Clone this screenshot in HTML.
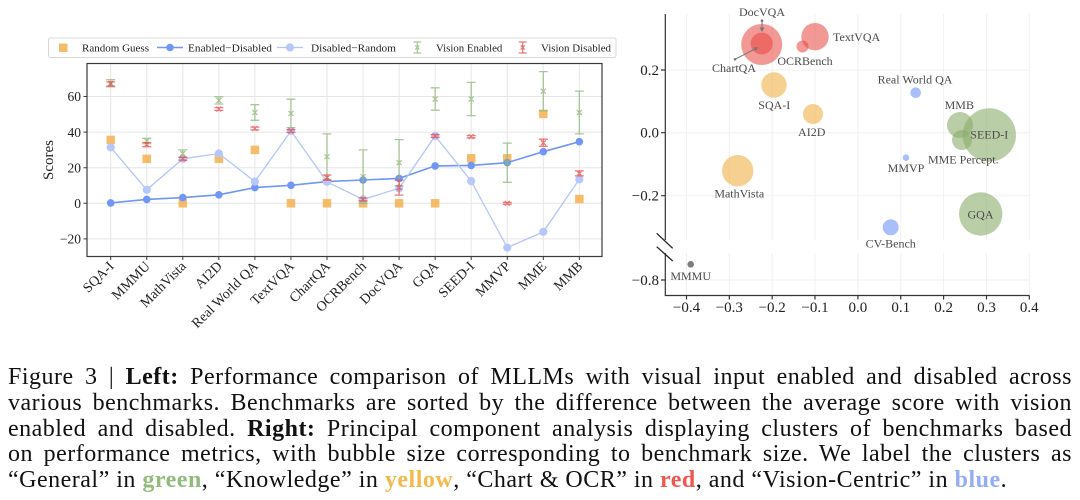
<!DOCTYPE html>
<html>
<head>
<meta charset="utf-8">
<style>
html,body{margin:0;padding:0;background:#fff;}
body{width:1080px;height:500px;position:relative;overflow:hidden;font-family:"Liberation Serif",serif;}
svg{position:absolute;left:0;top:0;}
.cap{position:absolute;left:8px;width:1064px;font-size:24px;letter-spacing:0.5px;line-height:25.6px;color:#111;text-align:justify;text-align-last:justify;white-space:normal;}
.cap.last{text-align-last:left;}
.g{color:#93bb7e;font-weight:bold}
.y{color:#f4b94e;font-weight:bold}
.r{color:#ee5850;font-weight:bold}
.b{color:#95adf6;font-weight:bold}
</style>
</head>
<body>
<svg width="1080" height="360" viewBox="0 0 1080 360" font-family="Liberation Serif, serif">
<defs>
<marker id="mED" markerWidth="10" markerHeight="10" refX="5" refY="5" markerUnits="userSpaceOnUse"><circle cx="5" cy="5" r="3.8" fill="#7096f6"/></marker>
<marker id="mDR" markerWidth="10" markerHeight="10" refX="5" refY="5" markerUnits="userSpaceOnUse"><circle cx="5" cy="5" r="4.1" fill="#b6c8fa"/></marker>
</defs>

<!-- ===== LEFT CHART ===== -->
<g stroke="#e6e6e6" stroke-width="1">
<path d="M87 238.9H602M87 203.3H602M87 167.7H602M87 132.1H602M87 96.5H602"/>
<path d="M110.7 64V256M146.75 64V256M182.8 64V256M218.85 64V256M254.9 64V256M290.95 64V256M327 64V256M363.05 64V256M399.1 64V256M435.15 64V256M471.2 64V256M507.25 64V256M543.3 64V256M579.35 64V256"/>
</g>

<!-- Random guess -->
<g fill="#f3b24f" fill-opacity="0.85">
<rect x="106.45" y="135.65" width="8.5" height="8.5"/>
<rect x="142.5" y="154.55" width="8.5" height="8.5"/>
<rect x="178.55" y="199.05" width="8.5" height="8.5"/>
<rect x="214.6" y="154.55" width="8.5" height="8.5"/>
<rect x="250.65" y="145.65" width="8.5" height="8.5"/>
<rect x="286.7" y="199.05" width="8.5" height="8.5"/>
<rect x="322.75" y="199.05" width="8.5" height="8.5"/>
<rect x="358.8" y="199.05" width="8.5" height="8.5"/>
<rect x="394.85" y="199.05" width="8.5" height="8.5"/>
<rect x="430.9" y="199.05" width="8.5" height="8.5"/>
<rect x="466.95" y="154.05" width="8.5" height="8.5"/>
<rect x="503" y="154.05" width="8.5" height="8.5"/>
<rect x="539.05" y="109.65" width="8.5" height="8.5"/>
<rect x="575.1" y="194.75" width="8.5" height="8.5"/>
</g>

<!-- Enabled-Disabled -->
<polyline fill="none" stroke="#7096f6" stroke-width="1.6" marker-start="url(#mED)" marker-mid="url(#mED)" marker-end="url(#mED)"
points="110.7,202.9 146.75,199.4 182.8,197.6 218.85,194.8 254.9,187.6 290.95,185.3 327,181.6 363.05,180 399.1,178.4 435.15,165.9 471.2,165.4 507.25,162.7 543.3,151.7 579.35,141.7"/>
<!-- Disabled-Random -->
<polyline fill="none" stroke="#b3c6fa" stroke-width="1.3" marker-start="url(#mDR)" marker-mid="url(#mDR)" marker-end="url(#mDR)"
points="110.7,147.4 146.75,189.8 182.8,158.8 218.85,153.5 254.9,181.6 290.95,131 327,181.9 363.05,199.4 399.1,188.3 435.15,136 471.2,181.1 507.25,247.6 543.3,231.8 579.35,179.3"/>

<!-- Vision Enabled -->
<path fill="none" stroke="#8fb578" stroke-opacity="0.75" stroke-width="1.3" d="
M110.7 79.7V86.9M106.2 79.7h9M106.2 86.9h9M108.2 80.8l5 5M108.2 85.8l5-5
M146.75 138.3V143.7M142.25 138.3h9M142.25 143.7h9M144.25 138.5l5 5M144.25 143.5l5-5
M182.8 149.9V157.1M178.3 149.9h9M178.3 157.1h9M180.3 151l5 5M180.3 156l5-5
M218.85 96.8V104M214.35 96.8h9M214.35 104h9M216.35 97.9l5 5M216.35 102.9l5-5
M254.9 104.7V120.3M250.4 104.7h9M250.4 120.3h9M252.4 110l5 5M252.4 115l5-5
M290.95 99.2V127.6M286.45 99.2h9M286.45 127.6h9M288.45 110.9l5 5M288.45 115.9l5-5
M327 133.9V179.5M322.5 133.9h9M322.5 179.5h9M324.5 154.2l5 5M324.5 159.2l5-5
M363.05 149.9V203.3M358.55 149.9h9M358.55 203.3h9M360.55 174.1l5 5M360.55 179.1l5-5
M399.1 139.6V185.8M394.6 139.6h9M394.6 185.8h9M396.6 160.2l5 5M396.6 165.2l5-5
M435.15 87.8V110.2M430.65 87.8h9M430.65 110.2h9M432.65 96.5l5 5M432.65 101.5l5-5
M471.2 82.4V115.6M466.7 82.4h9M466.7 115.6h9M468.7 96.5l5 5M468.7 101.5l5-5
M507.25 143.1V182.3M502.75 143.1h9M502.75 182.3h9M504.75 160.2l5 5M504.75 165.2l5-5
M543.3 71.6V110.8M538.8 71.6h9M538.8 110.8h9M540.8 88.7l5 5M540.8 93.7l5-5
M579.35 91.1V133.9M574.85 91.1h9M574.85 133.9h9M576.85 110l5 5M576.85 115l5-5"/>

<!-- Vision Disabled -->
<path fill="none" stroke="#e84a4a" stroke-opacity="0.75" stroke-width="1.3" d="
M110.7 81.9V86.1M106.2 81.9h9M106.2 86.1h9M108.2 81.5l5 5M108.2 86.5l5-5
M146.75 142.5V146.7M142.25 142.5h9M142.25 146.7h9M144.25 142.1l5 5M144.25 147.1l5-5
M182.8 157.4V160.2M178.3 157.4h9M178.3 160.2h9M180.3 156.3l5 5M180.3 161.3l5-5
M218.85 107.6V110.4M214.35 107.6h9M214.35 110.4h9M216.35 106.5l5 5M216.35 111.5l5-5
M254.9 127.1V129.9M250.4 127.1h9M250.4 129.9h9M252.4 126l5 5M252.4 131l5-5
M290.95 129.6V132.4M286.45 129.6h9M286.45 132.4h9M288.45 128.5l5 5M288.45 133.5l5-5
M327 175V180.4M322.5 175h9M322.5 180.4h9M324.5 175.2l5 5M324.5 180.2l5-5
M363.05 198V200.8M358.55 198h9M358.55 200.8h9M360.55 196.9l5 5M360.55 201.9l5-5
M399.1 180.1V195.1M394.6 180.1h9M394.6 195.1h9M396.6 185.1l5 5M396.6 190.1l5-5
M435.15 134.6V137.4M430.65 134.6h9M430.65 137.4h9M432.65 133.5l5 5M432.65 138.5l5-5
M471.2 135.6V137.8M466.7 135.6h9M466.7 137.8h9M468.7 134.2l5 5M468.7 139.2l5-5
M507.25 202.4V204.2M502.75 202.4h9M502.75 204.2h9M504.75 200.8l5 5M504.75 205.8l5-5
M543.3 139.2V146.4M538.8 139.2h9M538.8 146.4h9M540.8 140.3l5 5M540.8 145.3l5-5
M579.35 170.9V175.9M574.85 170.9h9M574.85 175.9h9M576.85 170.9l5 5M576.85 175.9l5-5"/>

<!-- frame -->
<rect x="87" y="63.5" width="515" height="193" fill="none" stroke="#3a3a3a" stroke-width="1.2"/>
<g stroke="#3a3a3a" stroke-width="1">
<path d="M83.5 238.9H87M83.5 203.3H87M83.5 167.7H87M83.5 132.1H87M83.5 96.5H87"/>
<path d="M110.7 256.5v3.5M146.75 256.5v3.5M182.8 256.5v3.5M218.85 256.5v3.5M254.9 256.5v3.5M290.95 256.5v3.5M327 256.5v3.5M363.05 256.5v3.5M399.1 256.5v3.5M435.15 256.5v3.5M471.2 256.5v3.5M507.25 256.5v3.5M543.3 256.5v3.5M579.35 256.5v3.5"/>
</g>
<g font-size="13.5" fill="#222" text-anchor="end">
<text x="81" y="101.2">60</text>
<text x="81" y="136.8">40</text>
<text x="81" y="172.4">20</text>
<text x="81" y="208">0</text>
<text x="81" y="243.6">−20</text>
</g>
<text transform="translate(53,160) rotate(-90)" font-size="15" fill="#222" text-anchor="middle">Scores</text>

<g font-size="14" fill="#222" text-anchor="end">
<text transform="translate(114.7,267) rotate(-45)">SQA-I</text>
<text transform="translate(150.75,267) rotate(-45)">MMMU</text>
<text transform="translate(186.8,267) rotate(-45)">MathVista</text>
<text transform="translate(222.85,267) rotate(-45)">AI2D</text>
<text transform="translate(258.9,267) rotate(-45)">Real World QA</text>
<text transform="translate(294.95,267) rotate(-45)">TextVQA</text>
<text transform="translate(331,267) rotate(-45)">ChartQA</text>
<text transform="translate(367.05,267) rotate(-45)">OCRBench</text>
<text transform="translate(403.1,267) rotate(-45)">DocVQA</text>
<text transform="translate(439.15,267) rotate(-45)">GQA</text>
<text transform="translate(475.2,267) rotate(-45)">SEED-I</text>
<text transform="translate(511.25,267) rotate(-45)">MMVP</text>
<text transform="translate(547.3,267) rotate(-45)">MME</text>
<text transform="translate(583.35,267) rotate(-45)">MMB</text>
</g>

<!-- legend -->
<rect x="48.5" y="38" width="567.5" height="19.5" rx="2" fill="#fff" stroke="#d8d8d8" stroke-width="1"/>
<rect x="59" y="43.5" width="8.5" height="8.5" fill="#f3b24f" fill-opacity="0.85"/>
<text x="82" y="51.5" font-size="11" fill="#222" textLength="67" lengthAdjust="spacingAndGlyphs">Random Guess</text>
<line x1="157" y1="47.5" x2="183" y2="47.5" stroke="#7096f6" stroke-width="1.6"/>
<circle cx="170" cy="47.5" r="3.8" fill="#7096f6"/>
<text x="188" y="51.5" font-size="11" fill="#222" textLength="84" lengthAdjust="spacingAndGlyphs">Enabled−Disabled</text>
<line x1="277" y1="47.5" x2="303" y2="47.5" stroke="#b3c6fa" stroke-width="1.3"/>
<circle cx="290" cy="47.5" r="4.1" fill="#b6c8fa"/>
<text x="311" y="51.5" font-size="11" fill="#222" textLength="85" lengthAdjust="spacingAndGlyphs">Disabled−Random</text>
<path fill="none" stroke="#8fb578" stroke-opacity="0.75" stroke-width="1.3" d="M417.3 42V53M413.3 42h8M413.3 53h8M415.3 45.5l4 4M415.3 49.5l4-4"/>
<text x="436" y="51.5" font-size="11" fill="#222" textLength="66.3" lengthAdjust="spacingAndGlyphs">Vision Enabled</text>
<path fill="none" stroke="#e84a4a" stroke-opacity="0.75" stroke-width="1.3" d="M522.7 42V53M518.7 42h8M518.7 53h8M520.7 45.5l4 4M520.7 49.5l4-4"/>
<text x="541" y="51.5" font-size="11" fill="#222" textLength="70" lengthAdjust="spacingAndGlyphs">Vision Disabled</text>

<!-- ===== RIGHT CHART ===== -->
<g stroke="#f0f0f0" stroke-width="1">
<path d="M686.5 14V240M729.3 14V240M772.2 14V240M815 14V240M857.9 14V240M900.75 14V240M943.6 14V240M986.5 14V240M1029.3 14V240"/>
<path d="M686.5 253V295M729.3 253V295M772.2 253V295M815 253V295M857.9 253V295M900.75 253V295M943.6 253V295M986.5 253V295M1029.3 253V295"/>
<path d="M665 70H1029M665 132.7H1029M665 195.7H1029M665 280H1029"/>
</g>

<!-- bubbles -->
<g fill="#e8463f" fill-opacity="0.55">
<circle cx="761.7" cy="44.5" r="20.5"/>
<circle cx="761.7" cy="43.5" r="11"/>
<circle cx="815" cy="36.7" r="13.7"/>
<circle cx="802.5" cy="46.5" r="6"/>
</g>
<g fill="#f0b048" fill-opacity="0.6">
<circle cx="774" cy="85" r="12.7"/>
<circle cx="813" cy="114" r="10"/>
<circle cx="737.7" cy="170.7" r="15.7"/>
</g>
<g fill="#8aae6a" fill-opacity="0.6">
<circle cx="960" cy="125" r="13"/>
<circle cx="989.3" cy="135" r="26.7"/>
<circle cx="962" cy="140" r="10"/>
<circle cx="980.7" cy="214" r="21.7"/>
</g>
<g fill="#6e94f5" fill-opacity="0.6">
<circle cx="915.7" cy="92.7" r="5.3"/>
<circle cx="906" cy="157.7" r="3.3"/>
<circle cx="890.7" cy="227.3" r="8"/>
</g>
<circle cx="690.7" cy="264.3" r="3.3" fill="#666" fill-opacity="0.85"/>

<!-- annotations -->
<g stroke="#777" stroke-width="1" fill="#777">
<line x1="762" y1="21" x2="762" y2="29"/>
<path d="M759.5 27.5L762 32L764.5 27.5Z" stroke="none"/>
<circle cx="762" cy="20.7" r="1.3" stroke="none"/>
<line x1="735" y1="59.3" x2="756" y2="48.5"/>
<path d="M753.5 47.3L758.5 47.3L755.5 51Z" stroke="none"/>
<circle cx="735" cy="59.3" r="1.3" stroke="none"/>
</g>

<g font-size="12" fill="#4a4a4a" text-anchor="middle">
<text x="762" y="16">DocVQA</text>
<text x="734" y="72">ChartQA</text>
<text x="805" y="65">OCRBench</text>
<text x="833" y="41" text-anchor="start">TextVQA</text>
<text x="774.3" y="109">SQA-I</text>
<text x="811.7" y="136">AI2D</text>
<text x="739.3" y="197.5">MathVista</text>
<text x="690.7" y="280">MMMU</text>
<text x="915" y="83.5">Real World QA</text>
<text x="959.3" y="109">MMB</text>
<text x="989.3" y="138.5">SEED-I</text>
<text x="963.3" y="163.5">MME Percept.</text>
<text x="906" y="172">MMVP</text>
<text x="980.5" y="218.5">GQA</text>
<text x="890.7" y="247.5">CV-Bench</text>
</g>

<!-- spines -->
<g stroke="#333" stroke-width="1.2" fill="none">
<path d="M665.3 14V240M665.3 253V295.5H1029.5"/>
<path d="M661 70H665.3M661 132.7H665.3M661 195.7H665.3M661 280H665.3"/>
<path d="M686.5 295.5v4M729.3 295.5v4M772.2 295.5v4M815 295.5v4M857.9 295.5v4M900.75 295.5v4M943.6 295.5v4M986.5 295.5v4M1029.3 295.5v4"/>
</g>
<g stroke="#222" stroke-width="1.3">
<line x1="656.7" y1="233.3" x2="672.7" y2="248.3"/>
<line x1="656.7" y1="246.7" x2="672.7" y2="261"/>
</g>
<g font-size="15" fill="#222" text-anchor="end">
<text x="659" y="75">0.2</text>
<text x="659" y="137.7">0.0</text>
<text x="659" y="200.7">−0.2</text>
<text x="659" y="285">−0.8</text>
</g>
<g font-size="15" fill="#222" text-anchor="middle">
<text x="686.5" y="312">−0.4</text>
<text x="729.3" y="312">−0.3</text>
<text x="772.2" y="312">−0.2</text>
<text x="815" y="312">−0.1</text>
<text x="857.9" y="312">0.0</text>
<text x="900.75" y="312">0.1</text>
<text x="943.6" y="312">0.2</text>
<text x="986.5" y="312">0.3</text>
<text x="1029.3" y="312">0.4</text>
</g>
</svg>

<div class="cap" style="top:365.4px">Figure 3 | <b>Left:</b> Performance comparison of MLLMs with visual input enabled and disabled across</div>
<div class="cap" style="top:391px">various benchmarks. Benchmarks are sorted by the difference between the average score with vision</div>
<div class="cap" style="top:416.6px">enabled and disabled. <b>Right:</b> Principal component analysis displaying clusters of benchmarks based</div>
<div class="cap" style="top:442.2px">on performance metrics, with bubble size corresponding to benchmark size. We label the clusters as</div>
<div class="cap last" style="top:467.8px">“General” in <span class="g">green</span>, “Knowledge” in <span class="y">yellow</span>, “Chart &amp; OCR” in <span class="r">red</span>, and “Vision-Centric” in <span class="b">blue</span>.</div>
</body>
</html>
